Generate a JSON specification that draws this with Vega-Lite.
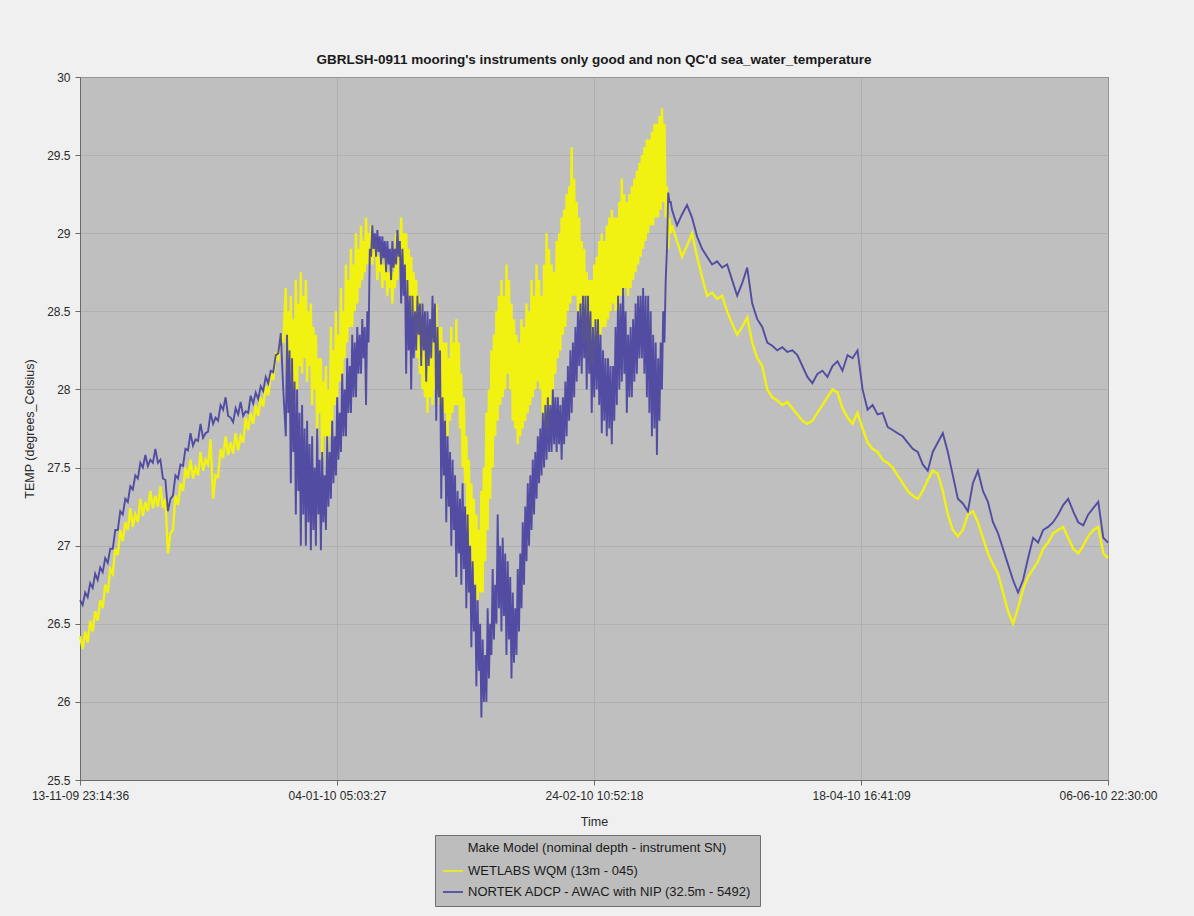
{
  "$schema": "https://vega.github.io/schema/vega-lite/v6.json",
  "width": 1028,
  "height": 703,
  "autosize": {"type": "none"},
  "padding": {"left": 80, "top": 77, "right": 86, "bottom": 136},
  "background": "#f0f0f0",
  "title": {
    "text": "GBRLSH-0911 mooring's instruments only good and non QC'd sea_water_temperature",
    "fontSize": 13.5,
    "fontWeight": "bold",
    "font": "Liberation Sans",
    "color": "#1a1a1a",
    "anchor": "middle",
    "offset": 5
  },
  "config": {
    "font": "Liberation Sans",
    "view": {"fill": "#bfbfbf", "stroke": "#6a6a6a", "strokeWidth": 1},
    "axis": {
      "labelFont": "Liberation Sans",
      "labelFontSize": 12,
      "labelColor": "#2a2a2a",
      "titleFont": "Liberation Sans",
      "titleFontSize": 12.5,
      "titleFontWeight": "normal",
      "titleColor": "#2a2a2a",
      "domainColor": "#6a6a6a",
      "tickColor": "#6a6a6a",
      "gridColor": "#a9a9a9",
      "gridOpacity": 0.7,
      "gridWidth": 1
    }
  },
  "data": {
    "values": [
      {"t": "2009-11-13T23:15", "w": 26.42, "n": 26.65},
      {"t": "2009-11-14T12:00", "w": 26.34, "n": 26.62},
      {"t": "2009-11-15T00:00", "w": 26.45, "n": 26.7},
      {"t": "2009-11-15T12:00", "w": 26.38, "n": 26.67},
      {"t": "2009-11-16T00:00", "w": 26.52, "n": 26.76},
      {"t": "2009-11-16T12:00", "w": 26.45, "n": 26.73},
      {"t": "2009-11-17T00:00", "w": 26.58, "n": 26.82},
      {"t": "2009-11-17T12:00", "w": 26.52, "n": 26.78},
      {"t": "2009-11-18T00:00", "w": 26.65, "n": 26.86},
      {"t": "2009-11-18T12:00", "w": 26.6, "n": 26.83},
      {"t": "2009-11-19T00:00", "w": 26.75, "n": 26.92},
      {"t": "2009-11-19T12:00", "w": 26.7, "n": 26.89},
      {"t": "2009-11-20T00:00", "w": 26.85, "n": 26.98},
      {"t": "2009-11-20T12:00", "w": 26.82, "n": 26.98},
      {"t": "2009-11-21T00:00", "w": 26.98, "n": 27.1},
      {"t": "2009-11-21T12:00", "w": 26.94, "n": 27.1},
      {"t": "2009-11-22T00:00", "w": 27.1, "n": 27.22},
      {"t": "2009-11-22T12:00", "w": 27.03, "n": 27.2},
      {"t": "2009-11-23T00:00", "w": 27.15, "n": 27.3},
      {"t": "2009-11-23T12:00", "w": 27.1, "n": 27.28},
      {"t": "2009-11-24T00:00", "w": 27.24, "n": 27.38},
      {"t": "2009-11-24T12:00", "w": 27.12, "n": 27.36},
      {"t": "2009-11-25T00:00", "w": 27.2, "n": 27.45},
      {"t": "2009-11-25T12:00", "w": 27.15, "n": 27.43},
      {"t": "2009-11-26T00:00", "w": 27.3, "n": 27.53},
      {"t": "2009-11-26T12:00", "w": 27.19, "n": 27.5},
      {"t": "2009-11-27T00:00", "w": 27.28, "n": 27.58},
      {"t": "2009-11-27T12:00", "w": 27.22, "n": 27.51},
      {"t": "2009-11-28T00:00", "w": 27.35, "n": 27.55},
      {"t": "2009-11-28T12:00", "w": 27.24, "n": 27.53},
      {"t": "2009-11-29T00:00", "w": 27.32, "n": 27.62},
      {"t": "2009-11-29T12:00", "w": 27.25, "n": 27.53},
      {"t": "2009-11-30T00:00", "w": 27.38, "n": 27.55},
      {"t": "2009-11-30T12:00", "w": 27.24, "n": 27.43},
      {"t": "2009-12-01T00:00", "w": 27.3, "n": 27.42},
      {"t": "2009-12-01T12:00", "w": 26.95, "n": 27.22},
      {"t": "2009-12-02T00:00", "w": 27.08, "n": 27.3},
      {"t": "2009-12-02T12:00", "w": 27.1, "n": 27.32},
      {"t": "2009-12-03T00:00", "w": 27.32, "n": 27.45},
      {"t": "2009-12-03T12:00", "w": 27.26, "n": 27.43},
      {"t": "2009-12-04T00:00", "w": 27.4, "n": 27.52},
      {"t": "2009-12-04T12:00", "w": 27.35, "n": 27.51},
      {"t": "2009-12-05T00:00", "w": 27.5, "n": 27.62},
      {"t": "2009-12-05T12:00", "w": 27.43, "n": 27.61},
      {"t": "2009-12-06T00:00", "w": 27.55, "n": 27.72},
      {"t": "2009-12-06T12:00", "w": 27.43, "n": 27.64},
      {"t": "2009-12-07T00:00", "w": 27.5, "n": 27.68},
      {"t": "2009-12-07T12:00", "w": 27.45, "n": 27.67},
      {"t": "2009-12-08T00:00", "w": 27.6, "n": 27.78},
      {"t": "2009-12-08T12:00", "w": 27.48, "n": 27.69},
      {"t": "2009-12-09T00:00", "w": 27.55, "n": 27.72},
      {"t": "2009-12-09T12:00", "w": 27.52, "n": 27.73},
      {"t": "2009-12-10T00:00", "w": 27.68, "n": 27.85},
      {"t": "2009-12-10T12:00", "w": 27.3, "n": 27.78},
      {"t": "2009-12-11T00:00", "w": 27.45, "n": 27.82},
      {"t": "2009-12-11T12:00", "w": 27.44, "n": 27.8},
      {"t": "2009-12-12T00:00", "w": 27.62, "n": 27.9},
      {"t": "2009-12-12T12:00", "w": 27.56, "n": 27.87},
      {"t": "2009-12-13T00:00", "w": 27.7, "n": 27.95},
      {"t": "2009-12-13T12:00", "w": 27.58, "n": 27.83},
      {"t": "2009-12-14T00:00", "w": 27.66, "n": 27.82},
      {"t": "2009-12-14T12:00", "w": 27.59, "n": 27.79},
      {"t": "2009-12-15T00:00", "w": 27.72, "n": 27.88},
      {"t": "2009-12-15T12:00", "w": 27.61, "n": 27.84},
      {"t": "2009-12-16T00:00", "w": 27.7, "n": 27.92},
      {"t": "2009-12-16T12:00", "w": 27.66, "n": 27.83},
      {"t": "2009-12-17T00:00", "w": 27.82, "n": 27.86},
      {"t": "2009-12-17T12:00", "w": 27.74, "n": 27.85},
      {"t": "2009-12-18T00:00", "w": 27.85, "n": 27.96},
      {"t": "2009-12-18T12:00", "w": 27.78, "n": 27.91},
      {"t": "2009-12-19T00:00", "w": 27.9, "n": 27.98},
      {"t": "2009-12-19T12:00", "w": 27.83, "n": 27.94},
      {"t": "2009-12-20T00:00", "w": 27.95, "n": 28.02},
      {"t": "2009-12-20T12:00", "w": 27.89, "n": 27.99},
      {"t": "2009-12-21T00:00", "w": 28.02, "n": 28.08},
      {"t": "2009-12-21T12:00", "w": 27.96, "n": 28.04},
      {"t": "2009-12-22T00:00", "w": 28.1, "n": 28.12},
      {"t": "2009-12-22T12:00", "w": 28.06, "n": 28.11},
      {"t": "2009-12-23T00:00", "w": 28.22, "n": 28.22},
      {"t": "2009-12-23T12:00", "w": 28.19, "n": 28.23},
      {"t": "2009-12-24T00:00", "w": 28.35, "n": 28.36},
      {"t": "2009-12-24T12:00", "w": 28.3, "n": 28.0},
      {"t": "2009-12-25T00:00", "w": 28.65, "n": 27.7},
      {"t": "2009-12-25T06:00", "w": 28.1, "n": 28.35},
      {"t": "2009-12-25T12:00", "w": 28.5, "n": 27.85},
      {"t": "2009-12-25T18:00", "w": 28.2, "n": 28.25},
      {"t": "2009-12-26T00:00", "w": 28.6, "n": 27.4},
      {"t": "2009-12-26T06:00", "w": 27.85, "n": 28.2},
      {"t": "2009-12-26T12:00", "w": 28.45, "n": 27.6},
      {"t": "2009-12-26T18:00", "w": 28.0, "n": 28.05},
      {"t": "2009-12-27T00:00", "w": 28.7, "n": 27.2},
      {"t": "2009-12-27T06:00", "w": 28.0, "n": 28.0},
      {"t": "2009-12-27T12:00", "w": 28.55, "n": 27.35},
      {"t": "2009-12-27T18:00", "w": 28.15, "n": 27.85},
      {"t": "2009-12-28T00:00", "w": 28.75, "n": 27.0},
      {"t": "2009-12-28T06:00", "w": 28.1, "n": 27.9},
      {"t": "2009-12-28T12:00", "w": 28.6, "n": 27.2},
      {"t": "2009-12-28T18:00", "w": 28.2, "n": 27.75},
      {"t": "2009-12-29T00:00", "w": 28.7, "n": 27.0},
      {"t": "2009-12-29T06:00", "w": 28.05, "n": 27.8},
      {"t": "2009-12-29T12:00", "w": 28.5, "n": 27.15},
      {"t": "2009-12-29T18:00", "w": 28.15, "n": 27.65},
      {"t": "2009-12-30T00:00", "w": 28.55, "n": 26.97},
      {"t": "2009-12-30T06:00", "w": 27.9, "n": 27.7},
      {"t": "2009-12-30T12:00", "w": 28.4, "n": 27.1},
      {"t": "2009-12-30T18:00", "w": 28.0, "n": 27.5},
      {"t": "2009-12-31T00:00", "w": 28.35, "n": 27.0},
      {"t": "2009-12-31T06:00", "w": 27.7, "n": 27.75},
      {"t": "2009-12-31T12:00", "w": 28.2, "n": 27.2},
      {"t": "2009-12-31T18:00", "w": 27.85, "n": 27.55},
      {"t": "2010-01-01T00:00", "w": 28.2, "n": 26.97},
      {"t": "2010-01-01T06:00", "w": 27.55, "n": 27.6},
      {"t": "2010-01-01T12:00", "w": 28.05, "n": 27.15},
      {"t": "2010-01-01T18:00", "w": 27.7, "n": 27.45},
      {"t": "2010-01-02T00:00", "w": 28.15, "n": 27.1},
      {"t": "2010-01-02T06:00", "w": 27.5, "n": 27.7},
      {"t": "2010-01-02T12:00", "w": 28.0, "n": 27.25},
      {"t": "2010-01-02T18:00", "w": 27.7, "n": 27.6},
      {"t": "2010-01-03T00:00", "w": 28.4, "n": 27.3},
      {"t": "2010-01-03T06:00", "w": 27.8, "n": 27.8},
      {"t": "2010-01-03T12:00", "w": 28.25, "n": 27.4},
      {"t": "2010-01-03T18:00", "w": 27.9, "n": 27.7},
      {"t": "2010-01-04T00:00", "w": 28.5, "n": 27.45},
      {"t": "2010-01-04T06:00", "w": 27.95, "n": 27.95},
      {"t": "2010-01-04T12:00", "w": 28.35, "n": 27.55},
      {"t": "2010-01-04T18:00", "w": 28.05, "n": 27.85},
      {"t": "2010-01-05T00:00", "w": 28.65, "n": 27.6},
      {"t": "2010-01-05T06:00", "w": 28.1, "n": 28.1},
      {"t": "2010-01-05T12:00", "w": 28.5, "n": 27.7},
      {"t": "2010-01-05T18:00", "w": 28.2, "n": 28.0},
      {"t": "2010-01-06T00:00", "w": 28.8, "n": 27.7},
      {"t": "2010-01-06T06:00", "w": 28.3, "n": 28.2},
      {"t": "2010-01-06T12:00", "w": 28.7, "n": 27.85},
      {"t": "2010-01-06T18:00", "w": 28.4, "n": 28.15},
      {"t": "2010-01-07T00:00", "w": 28.9, "n": 27.85},
      {"t": "2010-01-07T06:00", "w": 28.4, "n": 28.35},
      {"t": "2010-01-07T12:00", "w": 28.8, "n": 27.95},
      {"t": "2010-01-07T18:00", "w": 28.5, "n": 28.3},
      {"t": "2010-01-08T00:00", "w": 29.0, "n": 27.95},
      {"t": "2010-01-08T06:00", "w": 28.55, "n": 28.4},
      {"t": "2010-01-08T12:00", "w": 28.9, "n": 28.1},
      {"t": "2010-01-08T18:00", "w": 28.65, "n": 28.35},
      {"t": "2010-01-09T00:00", "w": 29.05, "n": 28.1},
      {"t": "2010-01-09T06:00", "w": 28.7, "n": 28.45},
      {"t": "2010-01-09T12:00", "w": 28.95, "n": 28.2},
      {"t": "2010-01-09T18:00", "w": 28.75, "n": 28.4},
      {"t": "2010-01-10T00:00", "w": 29.1, "n": 27.9},
      {"t": "2010-01-10T06:00", "w": 28.8, "n": 28.5},
      {"t": "2010-01-10T12:00", "w": 29.0, "n": 28.3},
      {"t": "2010-01-10T18:00", "w": 28.85, "n": 28.9},
      {"t": "2010-01-11T00:00", "w": 29.05, "n": 28.85},
      {"t": "2010-01-11T06:00", "w": 28.8, "n": 29.05},
      {"t": "2010-01-11T12:00", "w": 28.95, "n": 28.9},
      {"t": "2010-01-11T18:00", "w": 28.85, "n": 29.0},
      {"t": "2010-01-12T00:00", "w": 28.95, "n": 28.85},
      {"t": "2010-01-12T06:00", "w": 28.7, "n": 29.02},
      {"t": "2010-01-12T12:00", "w": 28.85, "n": 28.88},
      {"t": "2010-01-12T18:00", "w": 28.75, "n": 28.98},
      {"t": "2010-01-13T00:00", "w": 28.9, "n": 28.8},
      {"t": "2010-01-13T06:00", "w": 28.65, "n": 28.98},
      {"t": "2010-01-13T12:00", "w": 28.8, "n": 28.84},
      {"t": "2010-01-13T18:00", "w": 28.7, "n": 28.95},
      {"t": "2010-01-14T00:00", "w": 28.85, "n": 28.75},
      {"t": "2010-01-14T06:00", "w": 28.6, "n": 28.95},
      {"t": "2010-01-14T12:00", "w": 28.75, "n": 28.8},
      {"t": "2010-01-14T18:00", "w": 28.65, "n": 28.9},
      {"t": "2010-01-15T00:00", "w": 28.8, "n": 28.7},
      {"t": "2010-01-15T06:00", "w": 28.55, "n": 28.95},
      {"t": "2010-01-15T12:00", "w": 28.75, "n": 28.78},
      {"t": "2010-01-15T18:00", "w": 28.65, "n": 28.9},
      {"t": "2010-01-16T00:00", "w": 29.0, "n": 28.8},
      {"t": "2010-01-16T06:00", "w": 28.7, "n": 29.02},
      {"t": "2010-01-16T12:00", "w": 28.9, "n": 28.85},
      {"t": "2010-01-16T18:00", "w": 28.8, "n": 28.95},
      {"t": "2010-01-17T00:00", "w": 29.1, "n": 28.55},
      {"t": "2010-01-17T06:00", "w": 28.85, "n": 28.9},
      {"t": "2010-01-17T12:00", "w": 29.0, "n": 28.6},
      {"t": "2010-01-17T18:00", "w": 28.75, "n": 28.8},
      {"t": "2010-01-18T00:00", "w": 29.0, "n": 28.1},
      {"t": "2010-01-18T06:00", "w": 28.6, "n": 28.7},
      {"t": "2010-01-18T12:00", "w": 28.9, "n": 28.25},
      {"t": "2010-01-18T18:00", "w": 28.5, "n": 28.6},
      {"t": "2010-01-19T00:00", "w": 28.85, "n": 28.0},
      {"t": "2010-01-19T06:00", "w": 28.45, "n": 28.6},
      {"t": "2010-01-19T12:00", "w": 28.75, "n": 28.2},
      {"t": "2010-01-19T18:00", "w": 28.35, "n": 28.5},
      {"t": "2010-01-20T00:00", "w": 28.7, "n": 28.25},
      {"t": "2010-01-20T06:00", "w": 28.2, "n": 28.6},
      {"t": "2010-01-20T12:00", "w": 28.6, "n": 28.35},
      {"t": "2010-01-20T18:00", "w": 28.1, "n": 28.55},
      {"t": "2010-01-21T00:00", "w": 28.55, "n": 28.15},
      {"t": "2010-01-21T06:00", "w": 28.0, "n": 28.55},
      {"t": "2010-01-21T12:00", "w": 28.45, "n": 28.25},
      {"t": "2010-01-21T18:00", "w": 27.95, "n": 28.5},
      {"t": "2010-01-22T00:00", "w": 28.4, "n": 28.05},
      {"t": "2010-01-22T06:00", "w": 27.85, "n": 28.5},
      {"t": "2010-01-22T12:00", "w": 28.35, "n": 28.15},
      {"t": "2010-01-22T18:00", "w": 27.95, "n": 28.45},
      {"t": "2010-01-23T00:00", "w": 28.45, "n": 28.2},
      {"t": "2010-01-23T06:00", "w": 27.9, "n": 28.6},
      {"t": "2010-01-23T12:00", "w": 28.4, "n": 28.3},
      {"t": "2010-01-23T18:00", "w": 28.0, "n": 28.55},
      {"t": "2010-01-24T00:00", "w": 28.55, "n": 27.8},
      {"t": "2010-01-24T06:00", "w": 27.95, "n": 28.4},
      {"t": "2010-01-24T12:00", "w": 28.4, "n": 27.95},
      {"t": "2010-01-24T18:00", "w": 27.9, "n": 28.25},
      {"t": "2010-01-25T00:00", "w": 28.4, "n": 27.3},
      {"t": "2010-01-25T06:00", "w": 27.8, "n": 27.95},
      {"t": "2010-01-25T12:00", "w": 28.3, "n": 27.45},
      {"t": "2010-01-25T18:00", "w": 27.85, "n": 27.8},
      {"t": "2010-01-26T00:00", "w": 28.3, "n": 27.15},
      {"t": "2010-01-26T06:00", "w": 27.7, "n": 27.7},
      {"t": "2010-01-26T12:00", "w": 28.2, "n": 27.25},
      {"t": "2010-01-26T18:00", "w": 27.8, "n": 27.6},
      {"t": "2010-01-27T00:00", "w": 28.4, "n": 27.0},
      {"t": "2010-01-27T06:00", "w": 27.85, "n": 27.55},
      {"t": "2010-01-27T12:00", "w": 28.3, "n": 27.1},
      {"t": "2010-01-27T18:00", "w": 27.9, "n": 27.45},
      {"t": "2010-01-28T00:00", "w": 28.45, "n": 26.8},
      {"t": "2010-01-28T06:00", "w": 27.9, "n": 27.35},
      {"t": "2010-01-28T12:00", "w": 28.3, "n": 26.95},
      {"t": "2010-01-28T18:00", "w": 27.75, "n": 27.3},
      {"t": "2010-01-29T00:00", "w": 28.1, "n": 26.75},
      {"t": "2010-01-29T06:00", "w": 27.5, "n": 27.4},
      {"t": "2010-01-29T12:00", "w": 27.95, "n": 26.85},
      {"t": "2010-01-29T18:00", "w": 27.4, "n": 27.25},
      {"t": "2010-01-30T00:00", "w": 27.7, "n": 26.6},
      {"t": "2010-01-30T06:00", "w": 27.1, "n": 27.2},
      {"t": "2010-01-30T12:00", "w": 27.55, "n": 26.7},
      {"t": "2010-01-30T18:00", "w": 27.0, "n": 27.0},
      {"t": "2010-01-31T00:00", "w": 27.4, "n": 26.35},
      {"t": "2010-01-31T06:00", "w": 26.85, "n": 26.9},
      {"t": "2010-01-31T12:00", "w": 27.3, "n": 26.45},
      {"t": "2010-01-31T18:00", "w": 26.75, "n": 26.75},
      {"t": "2010-02-01T00:00", "w": 27.2, "n": 26.1},
      {"t": "2010-02-01T06:00", "w": 26.65, "n": 26.65},
      {"t": "2010-02-01T12:00", "w": 27.1, "n": 26.2},
      {"t": "2010-02-01T18:00", "w": 26.7, "n": 26.5},
      {"t": "2010-02-02T00:00", "w": 27.35, "n": 25.9},
      {"t": "2010-02-02T06:00", "w": 26.7, "n": 26.4},
      {"t": "2010-02-02T12:00", "w": 27.5, "n": 26.0},
      {"t": "2010-02-02T18:00", "w": 26.9, "n": 26.3},
      {"t": "2010-02-03T00:00", "w": 27.85, "n": 26.0},
      {"t": "2010-02-03T06:00", "w": 27.1, "n": 26.6},
      {"t": "2010-02-03T12:00", "w": 28.0, "n": 26.15},
      {"t": "2010-02-03T18:00", "w": 27.3, "n": 26.5},
      {"t": "2010-02-04T00:00", "w": 28.25, "n": 26.3},
      {"t": "2010-02-04T06:00", "w": 27.5, "n": 26.85},
      {"t": "2010-02-04T12:00", "w": 28.35, "n": 26.4},
      {"t": "2010-02-04T18:00", "w": 27.7, "n": 26.75},
      {"t": "2010-02-05T00:00", "w": 28.5, "n": 26.5},
      {"t": "2010-02-05T06:00", "w": 27.8, "n": 27.2},
      {"t": "2010-02-05T12:00", "w": 28.6, "n": 26.6},
      {"t": "2010-02-05T18:00", "w": 27.9, "n": 27.0},
      {"t": "2010-02-06T00:00", "w": 28.7, "n": 26.45},
      {"t": "2010-02-06T06:00", "w": 27.95, "n": 27.05},
      {"t": "2010-02-06T12:00", "w": 28.6, "n": 26.55},
      {"t": "2010-02-06T18:00", "w": 28.0, "n": 26.95},
      {"t": "2010-02-07T00:00", "w": 28.8, "n": 26.3},
      {"t": "2010-02-07T06:00", "w": 28.1, "n": 26.9},
      {"t": "2010-02-07T12:00", "w": 28.7, "n": 26.4},
      {"t": "2010-02-07T18:00", "w": 28.0, "n": 26.8},
      {"t": "2010-02-08T00:00", "w": 28.55, "n": 26.15},
      {"t": "2010-02-08T06:00", "w": 27.8, "n": 26.7},
      {"t": "2010-02-08T12:00", "w": 28.45, "n": 26.25},
      {"t": "2010-02-08T18:00", "w": 27.75, "n": 26.6},
      {"t": "2010-02-09T00:00", "w": 28.35, "n": 26.3},
      {"t": "2010-02-09T06:00", "w": 27.65, "n": 26.85},
      {"t": "2010-02-09T12:00", "w": 28.3, "n": 26.45},
      {"t": "2010-02-09T18:00", "w": 27.7, "n": 26.95},
      {"t": "2010-02-10T00:00", "w": 28.45, "n": 26.6},
      {"t": "2010-02-10T06:00", "w": 27.75, "n": 27.15},
      {"t": "2010-02-10T12:00", "w": 28.4, "n": 26.75},
      {"t": "2010-02-10T18:00", "w": 27.8, "n": 27.25},
      {"t": "2010-02-11T00:00", "w": 28.55, "n": 26.9},
      {"t": "2010-02-11T06:00", "w": 27.85, "n": 27.4},
      {"t": "2010-02-11T12:00", "w": 28.5, "n": 27.0},
      {"t": "2010-02-11T18:00", "w": 27.9, "n": 27.45},
      {"t": "2010-02-12T00:00", "w": 28.7, "n": 27.1},
      {"t": "2010-02-12T06:00", "w": 27.95, "n": 27.55},
      {"t": "2010-02-12T12:00", "w": 28.6, "n": 27.2},
      {"t": "2010-02-12T18:00", "w": 28.0, "n": 27.6},
      {"t": "2010-02-13T00:00", "w": 28.8, "n": 27.3},
      {"t": "2010-02-13T06:00", "w": 28.05, "n": 27.7},
      {"t": "2010-02-13T12:00", "w": 28.7, "n": 27.4},
      {"t": "2010-02-13T18:00", "w": 28.0, "n": 27.75},
      {"t": "2010-02-14T00:00", "w": 28.6, "n": 27.45},
      {"t": "2010-02-14T06:00", "w": 27.8, "n": 27.85},
      {"t": "2010-02-14T12:00", "w": 28.8, "n": 27.5},
      {"t": "2010-02-14T18:00", "w": 27.75, "n": 27.9},
      {"t": "2010-02-15T00:00", "w": 29.0, "n": 27.55},
      {"t": "2010-02-15T06:00", "w": 27.7, "n": 27.95},
      {"t": "2010-02-15T12:00", "w": 28.9, "n": 27.6},
      {"t": "2010-02-15T18:00", "w": 27.9, "n": 27.9},
      {"t": "2010-02-16T00:00", "w": 28.8, "n": 27.6},
      {"t": "2010-02-16T06:00", "w": 28.0, "n": 28.0},
      {"t": "2010-02-16T12:00", "w": 28.75, "n": 27.65},
      {"t": "2010-02-16T18:00", "w": 28.1, "n": 27.95},
      {"t": "2010-02-17T00:00", "w": 28.95, "n": 27.6},
      {"t": "2010-02-17T06:00", "w": 28.2, "n": 27.95},
      {"t": "2010-02-17T12:00", "w": 29.0, "n": 27.65},
      {"t": "2010-02-17T18:00", "w": 28.25, "n": 27.9},
      {"t": "2010-02-18T00:00", "w": 29.1, "n": 27.55},
      {"t": "2010-02-18T06:00", "w": 28.35, "n": 27.95},
      {"t": "2010-02-18T12:00", "w": 29.15, "n": 27.65},
      {"t": "2010-02-18T18:00", "w": 28.4, "n": 28.05},
      {"t": "2010-02-19T00:00", "w": 29.25, "n": 27.7},
      {"t": "2010-02-19T06:00", "w": 28.5, "n": 28.15},
      {"t": "2010-02-19T12:00", "w": 29.3, "n": 27.8},
      {"t": "2010-02-19T18:00", "w": 28.55, "n": 28.25},
      {"t": "2010-02-20T00:00", "w": 29.55, "n": 27.85},
      {"t": "2010-02-20T06:00", "w": 28.6, "n": 28.3},
      {"t": "2010-02-20T12:00", "w": 29.35, "n": 27.95},
      {"t": "2010-02-20T18:00", "w": 28.6, "n": 28.4},
      {"t": "2010-02-21T00:00", "w": 29.2, "n": 28.05},
      {"t": "2010-02-21T06:00", "w": 28.5, "n": 28.5},
      {"t": "2010-02-21T12:00", "w": 29.1, "n": 28.15},
      {"t": "2010-02-21T18:00", "w": 28.45, "n": 28.55},
      {"t": "2010-02-22T00:00", "w": 28.95, "n": 28.1},
      {"t": "2010-02-22T06:00", "w": 28.3, "n": 28.6},
      {"t": "2010-02-22T12:00", "w": 28.9, "n": 28.2},
      {"t": "2010-02-22T18:00", "w": 28.3, "n": 28.6},
      {"t": "2010-02-23T00:00", "w": 28.75, "n": 28.0},
      {"t": "2010-02-23T06:00", "w": 28.2, "n": 28.6},
      {"t": "2010-02-23T12:00", "w": 28.7, "n": 28.1},
      {"t": "2010-02-23T18:00", "w": 28.15, "n": 28.5},
      {"t": "2010-02-24T00:00", "w": 28.7, "n": 27.85},
      {"t": "2010-02-24T06:00", "w": 28.15, "n": 28.4},
      {"t": "2010-02-24T12:00", "w": 28.8, "n": 27.95},
      {"t": "2010-02-24T18:00", "w": 28.25, "n": 28.45},
      {"t": "2010-02-25T00:00", "w": 28.85, "n": 28.0},
      {"t": "2010-02-25T06:00", "w": 28.3, "n": 28.45},
      {"t": "2010-02-25T12:00", "w": 28.95, "n": 27.9},
      {"t": "2010-02-25T18:00", "w": 28.35, "n": 28.35},
      {"t": "2010-02-26T00:00", "w": 29.0, "n": 27.72},
      {"t": "2010-02-26T06:00", "w": 28.4, "n": 28.25},
      {"t": "2010-02-26T12:00", "w": 28.95, "n": 27.8},
      {"t": "2010-02-26T18:00", "w": 28.4, "n": 28.2},
      {"t": "2010-02-27T00:00", "w": 29.05, "n": 27.7},
      {"t": "2010-02-27T06:00", "w": 28.45, "n": 28.2},
      {"t": "2010-02-27T12:00", "w": 29.1, "n": 27.75},
      {"t": "2010-02-27T18:00", "w": 28.5, "n": 28.15},
      {"t": "2010-02-28T00:00", "w": 29.15, "n": 27.65},
      {"t": "2010-02-28T06:00", "w": 28.55, "n": 28.15},
      {"t": "2010-02-28T12:00", "w": 29.1, "n": 27.8},
      {"t": "2010-02-28T18:00", "w": 28.5, "n": 28.4},
      {"t": "2010-03-01T00:00", "w": 29.1, "n": 27.9},
      {"t": "2010-03-01T06:00", "w": 28.5, "n": 28.6},
      {"t": "2010-03-01T12:00", "w": 29.2, "n": 28.0},
      {"t": "2010-03-01T18:00", "w": 28.6, "n": 28.55},
      {"t": "2010-03-02T00:00", "w": 29.35, "n": 28.05},
      {"t": "2010-03-02T06:00", "w": 28.6, "n": 28.65},
      {"t": "2010-03-02T12:00", "w": 29.25, "n": 28.1},
      {"t": "2010-03-02T18:00", "w": 28.65, "n": 28.5},
      {"t": "2010-03-03T00:00", "w": 29.2, "n": 27.85},
      {"t": "2010-03-03T06:00", "w": 28.6, "n": 28.35},
      {"t": "2010-03-03T12:00", "w": 29.25, "n": 27.95},
      {"t": "2010-03-03T18:00", "w": 28.65, "n": 28.4},
      {"t": "2010-03-04T00:00", "w": 29.3, "n": 27.95},
      {"t": "2010-03-04T06:00", "w": 28.7, "n": 28.45},
      {"t": "2010-03-04T12:00", "w": 29.35, "n": 28.05},
      {"t": "2010-03-04T18:00", "w": 28.75, "n": 28.55},
      {"t": "2010-03-05T00:00", "w": 29.4, "n": 28.1},
      {"t": "2010-03-05T06:00", "w": 28.8, "n": 28.6},
      {"t": "2010-03-05T12:00", "w": 29.45, "n": 28.2},
      {"t": "2010-03-05T18:00", "w": 28.85, "n": 28.6},
      {"t": "2010-03-06T00:00", "w": 29.5, "n": 28.2},
      {"t": "2010-03-06T06:00", "w": 28.9, "n": 28.65},
      {"t": "2010-03-06T12:00", "w": 29.55, "n": 28.1},
      {"t": "2010-03-06T18:00", "w": 28.95, "n": 28.6},
      {"t": "2010-03-07T00:00", "w": 29.6, "n": 27.95},
      {"t": "2010-03-07T06:00", "w": 29.0, "n": 28.6},
      {"t": "2010-03-07T12:00", "w": 29.6, "n": 27.85},
      {"t": "2010-03-07T18:00", "w": 29.05, "n": 28.5},
      {"t": "2010-03-08T00:00", "w": 29.65, "n": 27.7},
      {"t": "2010-03-08T06:00", "w": 29.05, "n": 28.35},
      {"t": "2010-03-08T12:00", "w": 29.7, "n": 27.75},
      {"t": "2010-03-08T18:00", "w": 29.1, "n": 28.3},
      {"t": "2010-03-09T00:00", "w": 29.7, "n": 27.58},
      {"t": "2010-03-09T06:00", "w": 29.1, "n": 28.2},
      {"t": "2010-03-09T12:00", "w": 29.75, "n": 27.8},
      {"t": "2010-03-09T18:00", "w": 29.15, "n": 28.3},
      {"t": "2010-03-10T00:00", "w": 29.8, "n": 28.0},
      {"t": "2010-03-10T06:00", "w": 29.2, "n": 28.5},
      {"t": "2010-03-10T12:00", "w": 29.7, "n": 28.3},
      {"t": "2010-03-10T18:00", "w": 29.1, "n": 28.7},
      {"t": "2010-03-11T00:00", "w": 29.3, "n": 28.9},
      {"t": "2010-03-11T06:00", "w": 28.9, "n": 29.26},
      {"t": "2010-03-11T12:00", "w": 29.1, "n": 29.2},
      {"t": "2010-03-11T18:00", "w": 29.0, "n": 29.2},
      {"t": "2010-03-12T00:00", "w": 29.05, "n": 29.15},
      {"t": "2010-03-13T00:00", "w": 28.95, "n": 29.05},
      {"t": "2010-03-14T00:00", "w": 28.85, "n": 29.12},
      {"t": "2010-03-15T00:00", "w": 28.92, "n": 29.18},
      {"t": "2010-03-16T00:00", "w": 29.0, "n": 29.1},
      {"t": "2010-03-17T00:00", "w": 28.85, "n": 28.98},
      {"t": "2010-03-18T00:00", "w": 28.72, "n": 28.9},
      {"t": "2010-03-19T00:00", "w": 28.6, "n": 28.85},
      {"t": "2010-03-20T00:00", "w": 28.62, "n": 28.8},
      {"t": "2010-03-21T00:00", "w": 28.58, "n": 28.82},
      {"t": "2010-03-22T00:00", "w": 28.6, "n": 28.78},
      {"t": "2010-03-23T00:00", "w": 28.5, "n": 28.8},
      {"t": "2010-03-24T00:00", "w": 28.42, "n": 28.7},
      {"t": "2010-03-25T00:00", "w": 28.35, "n": 28.6},
      {"t": "2010-03-26T00:00", "w": 28.4, "n": 28.68},
      {"t": "2010-03-27T00:00", "w": 28.46, "n": 28.78},
      {"t": "2010-03-28T00:00", "w": 28.3, "n": 28.55},
      {"t": "2010-03-29T00:00", "w": 28.2, "n": 28.45},
      {"t": "2010-03-30T00:00", "w": 28.15, "n": 28.4},
      {"t": "2010-03-31T00:00", "w": 28.0, "n": 28.3},
      {"t": "2010-04-01T00:00", "w": 27.95, "n": 28.28},
      {"t": "2010-04-02T00:00", "w": 27.93, "n": 28.25},
      {"t": "2010-04-03T00:00", "w": 27.9, "n": 28.27},
      {"t": "2010-04-04T00:00", "w": 27.92, "n": 28.24},
      {"t": "2010-04-05T00:00", "w": 27.88, "n": 28.25},
      {"t": "2010-04-06T00:00", "w": 27.84, "n": 28.22},
      {"t": "2010-04-07T00:00", "w": 27.8, "n": 28.15},
      {"t": "2010-04-08T00:00", "w": 27.78, "n": 28.08},
      {"t": "2010-04-09T00:00", "w": 27.8, "n": 28.04},
      {"t": "2010-04-10T00:00", "w": 27.85, "n": 28.1},
      {"t": "2010-04-11T00:00", "w": 27.9, "n": 28.12},
      {"t": "2010-04-12T00:00", "w": 27.95, "n": 28.08},
      {"t": "2010-04-13T00:00", "w": 28.0, "n": 28.15},
      {"t": "2010-04-14T00:00", "w": 27.98, "n": 28.18},
      {"t": "2010-04-15T00:00", "w": 27.88, "n": 28.12},
      {"t": "2010-04-16T00:00", "w": 27.82, "n": 28.22},
      {"t": "2010-04-17T00:00", "w": 27.78, "n": 28.2},
      {"t": "2010-04-18T00:00", "w": 27.85, "n": 28.25},
      {"t": "2010-04-19T00:00", "w": 27.75, "n": 28.0},
      {"t": "2010-04-20T00:00", "w": 27.66, "n": 27.87},
      {"t": "2010-04-21T00:00", "w": 27.62, "n": 27.9},
      {"t": "2010-04-22T00:00", "w": 27.6, "n": 27.84},
      {"t": "2010-04-23T00:00", "w": 27.55, "n": 27.85},
      {"t": "2010-04-24T00:00", "w": 27.53, "n": 27.76},
      {"t": "2010-04-25T00:00", "w": 27.5, "n": 27.74},
      {"t": "2010-04-26T00:00", "w": 27.45, "n": 27.72},
      {"t": "2010-04-27T00:00", "w": 27.4, "n": 27.7},
      {"t": "2010-04-28T00:00", "w": 27.35, "n": 27.66},
      {"t": "2010-04-29T00:00", "w": 27.32, "n": 27.62},
      {"t": "2010-04-30T00:00", "w": 27.3, "n": 27.6},
      {"t": "2010-05-01T00:00", "w": 27.35, "n": 27.52},
      {"t": "2010-05-02T00:00", "w": 27.42, "n": 27.48},
      {"t": "2010-05-03T00:00", "w": 27.48, "n": 27.6},
      {"t": "2010-05-04T00:00", "w": 27.46, "n": 27.66},
      {"t": "2010-05-05T00:00", "w": 27.35, "n": 27.72},
      {"t": "2010-05-06T00:00", "w": 27.2, "n": 27.6},
      {"t": "2010-05-07T00:00", "w": 27.1, "n": 27.45},
      {"t": "2010-05-08T00:00", "w": 27.06, "n": 27.3},
      {"t": "2010-05-09T00:00", "w": 27.1, "n": 27.27},
      {"t": "2010-05-10T00:00", "w": 27.2, "n": 27.22},
      {"t": "2010-05-11T00:00", "w": 27.22, "n": 27.4},
      {"t": "2010-05-12T00:00", "w": 27.15, "n": 27.48},
      {"t": "2010-05-13T00:00", "w": 27.05, "n": 27.35},
      {"t": "2010-05-14T00:00", "w": 26.95, "n": 27.28},
      {"t": "2010-05-15T00:00", "w": 26.88, "n": 27.15},
      {"t": "2010-05-16T00:00", "w": 26.82, "n": 27.08},
      {"t": "2010-05-17T00:00", "w": 26.7, "n": 26.98},
      {"t": "2010-05-18T00:00", "w": 26.58, "n": 26.88},
      {"t": "2010-05-19T00:00", "w": 26.5, "n": 26.78},
      {"t": "2010-05-20T00:00", "w": 26.6, "n": 26.7},
      {"t": "2010-05-21T00:00", "w": 26.72, "n": 26.78},
      {"t": "2010-05-22T00:00", "w": 26.8, "n": 26.92},
      {"t": "2010-05-23T00:00", "w": 26.85, "n": 27.05},
      {"t": "2010-05-24T00:00", "w": 26.9, "n": 27.02},
      {"t": "2010-05-25T00:00", "w": 26.98, "n": 27.1},
      {"t": "2010-05-26T00:00", "w": 27.02, "n": 27.12},
      {"t": "2010-05-27T00:00", "w": 27.08, "n": 27.15},
      {"t": "2010-05-28T00:00", "w": 27.1, "n": 27.2},
      {"t": "2010-05-29T00:00", "w": 27.12, "n": 27.26},
      {"t": "2010-05-30T00:00", "w": 27.05, "n": 27.3},
      {"t": "2010-05-31T00:00", "w": 26.98, "n": 27.22},
      {"t": "2010-06-01T00:00", "w": 26.95, "n": 27.15},
      {"t": "2010-06-02T00:00", "w": 27.0, "n": 27.13},
      {"t": "2010-06-03T00:00", "w": 27.06, "n": 27.2},
      {"t": "2010-06-04T00:00", "w": 27.1, "n": 27.24},
      {"t": "2010-06-05T00:00", "w": 27.12, "n": 27.28},
      {"t": "2010-06-06T00:00", "w": 26.95, "n": 27.05},
      {"t": "2010-06-06T22:30", "w": 26.92, "n": 27.02}
    ]
  },
  "encoding": {
    "x": {
      "field": "t",
      "type": "temporal",
      "title": "Time",
      "scale": {
        "domain": [
          {"year": 2009, "month": 11, "date": 13, "hours": 23, "minutes": 14, "seconds": 36},
          {"year": 2010, "month": 6, "date": 6, "hours": 22, "minutes": 30, "seconds": 0}
        ],
        "nice": false
      },
      "axis": {
        "values": [
          {"year": 2009, "month": 11, "date": 13, "hours": 23, "minutes": 14, "seconds": 36},
          {"year": 2010, "month": 1, "date": 4, "hours": 5, "minutes": 3, "seconds": 27},
          {"year": 2010, "month": 2, "date": 24, "hours": 10, "minutes": 52, "seconds": 18},
          {"year": 2010, "month": 4, "date": 18, "hours": 16, "minutes": 41, "seconds": 9},
          {"year": 2010, "month": 6, "date": 6, "hours": 22, "minutes": 30, "seconds": 0}
        ],
        "format": "%d-%m-%y %H:%M:%S",
        "labelFlush": false,
        "labelOverlap": false,
        "grid": true,
        "tickSize": 5,
        "labelPadding": 5,
        "titlePadding": 14
      }
    }
  },
  "layer": [
    {
      "mark": {"type": "line", "strokeWidth": 2.4, "interpolate": "linear"},
      "encoding": {
        "y": {
          "field": "w",
          "type": "quantitative",
          "title": "TEMP (degrees_Celsius)",
          "scale": {"domain": [25.5, 30], "nice": false, "zero": false},
          "axis": {
            "values": [25.5, 26, 26.5, 27, 27.5, 28, 28.5, 29, 29.5, 30],
            "format": "~g",
            "grid": true,
            "tickSize": 5,
            "labelPadding": 5,
            "titlePadding": 10
          }
        },
        "color": {
          "datum": "WETLABS WQM (13m - 045)",
          "type": "nominal",
          "scale": {
            "domain": ["WETLABS WQM (13m - 045)", "NORTEK ADCP - AWAC with NIP (32.5m - 5492)"],
            "range": ["#f2f212", "#4640a0"]
          },
          "legend": {
            "title": "Make Model (nominal depth - instrument SN)",
            "orient": "none",
            "legendX": 355,
            "legendY": 758,
            "direction": "vertical",
            "fillColor": "#bdbdbd",
            "strokeColor": "#6e6e6e",
            "padding": 7,
            "symbolType": "stroke",
            "symbolSize": 400,
            "symbolStrokeWidth": 1.8,
            "labelFontSize": 13,
            "labelColor": "#1a1a1a",
            "labelLimit": 400,
            "titleFontSize": 13,
            "titleFontWeight": "normal",
            "titleColor": "#1a1a1a",
            "titleAnchor": "middle",
            "titleLimit": 400,
            "titlePadding": 5,
            "rowPadding": 3
          }
        }
      }
    },
    {
      "mark": {"type": "line", "strokeWidth": 1.9, "opacity": 0.9, "interpolate": "linear"},
      "encoding": {
        "y": {"field": "n", "type": "quantitative"},
        "color": {"datum": "NORTEK ADCP - AWAC with NIP (32.5m - 5492)", "type": "nominal"}
      }
    }
  ]
}
